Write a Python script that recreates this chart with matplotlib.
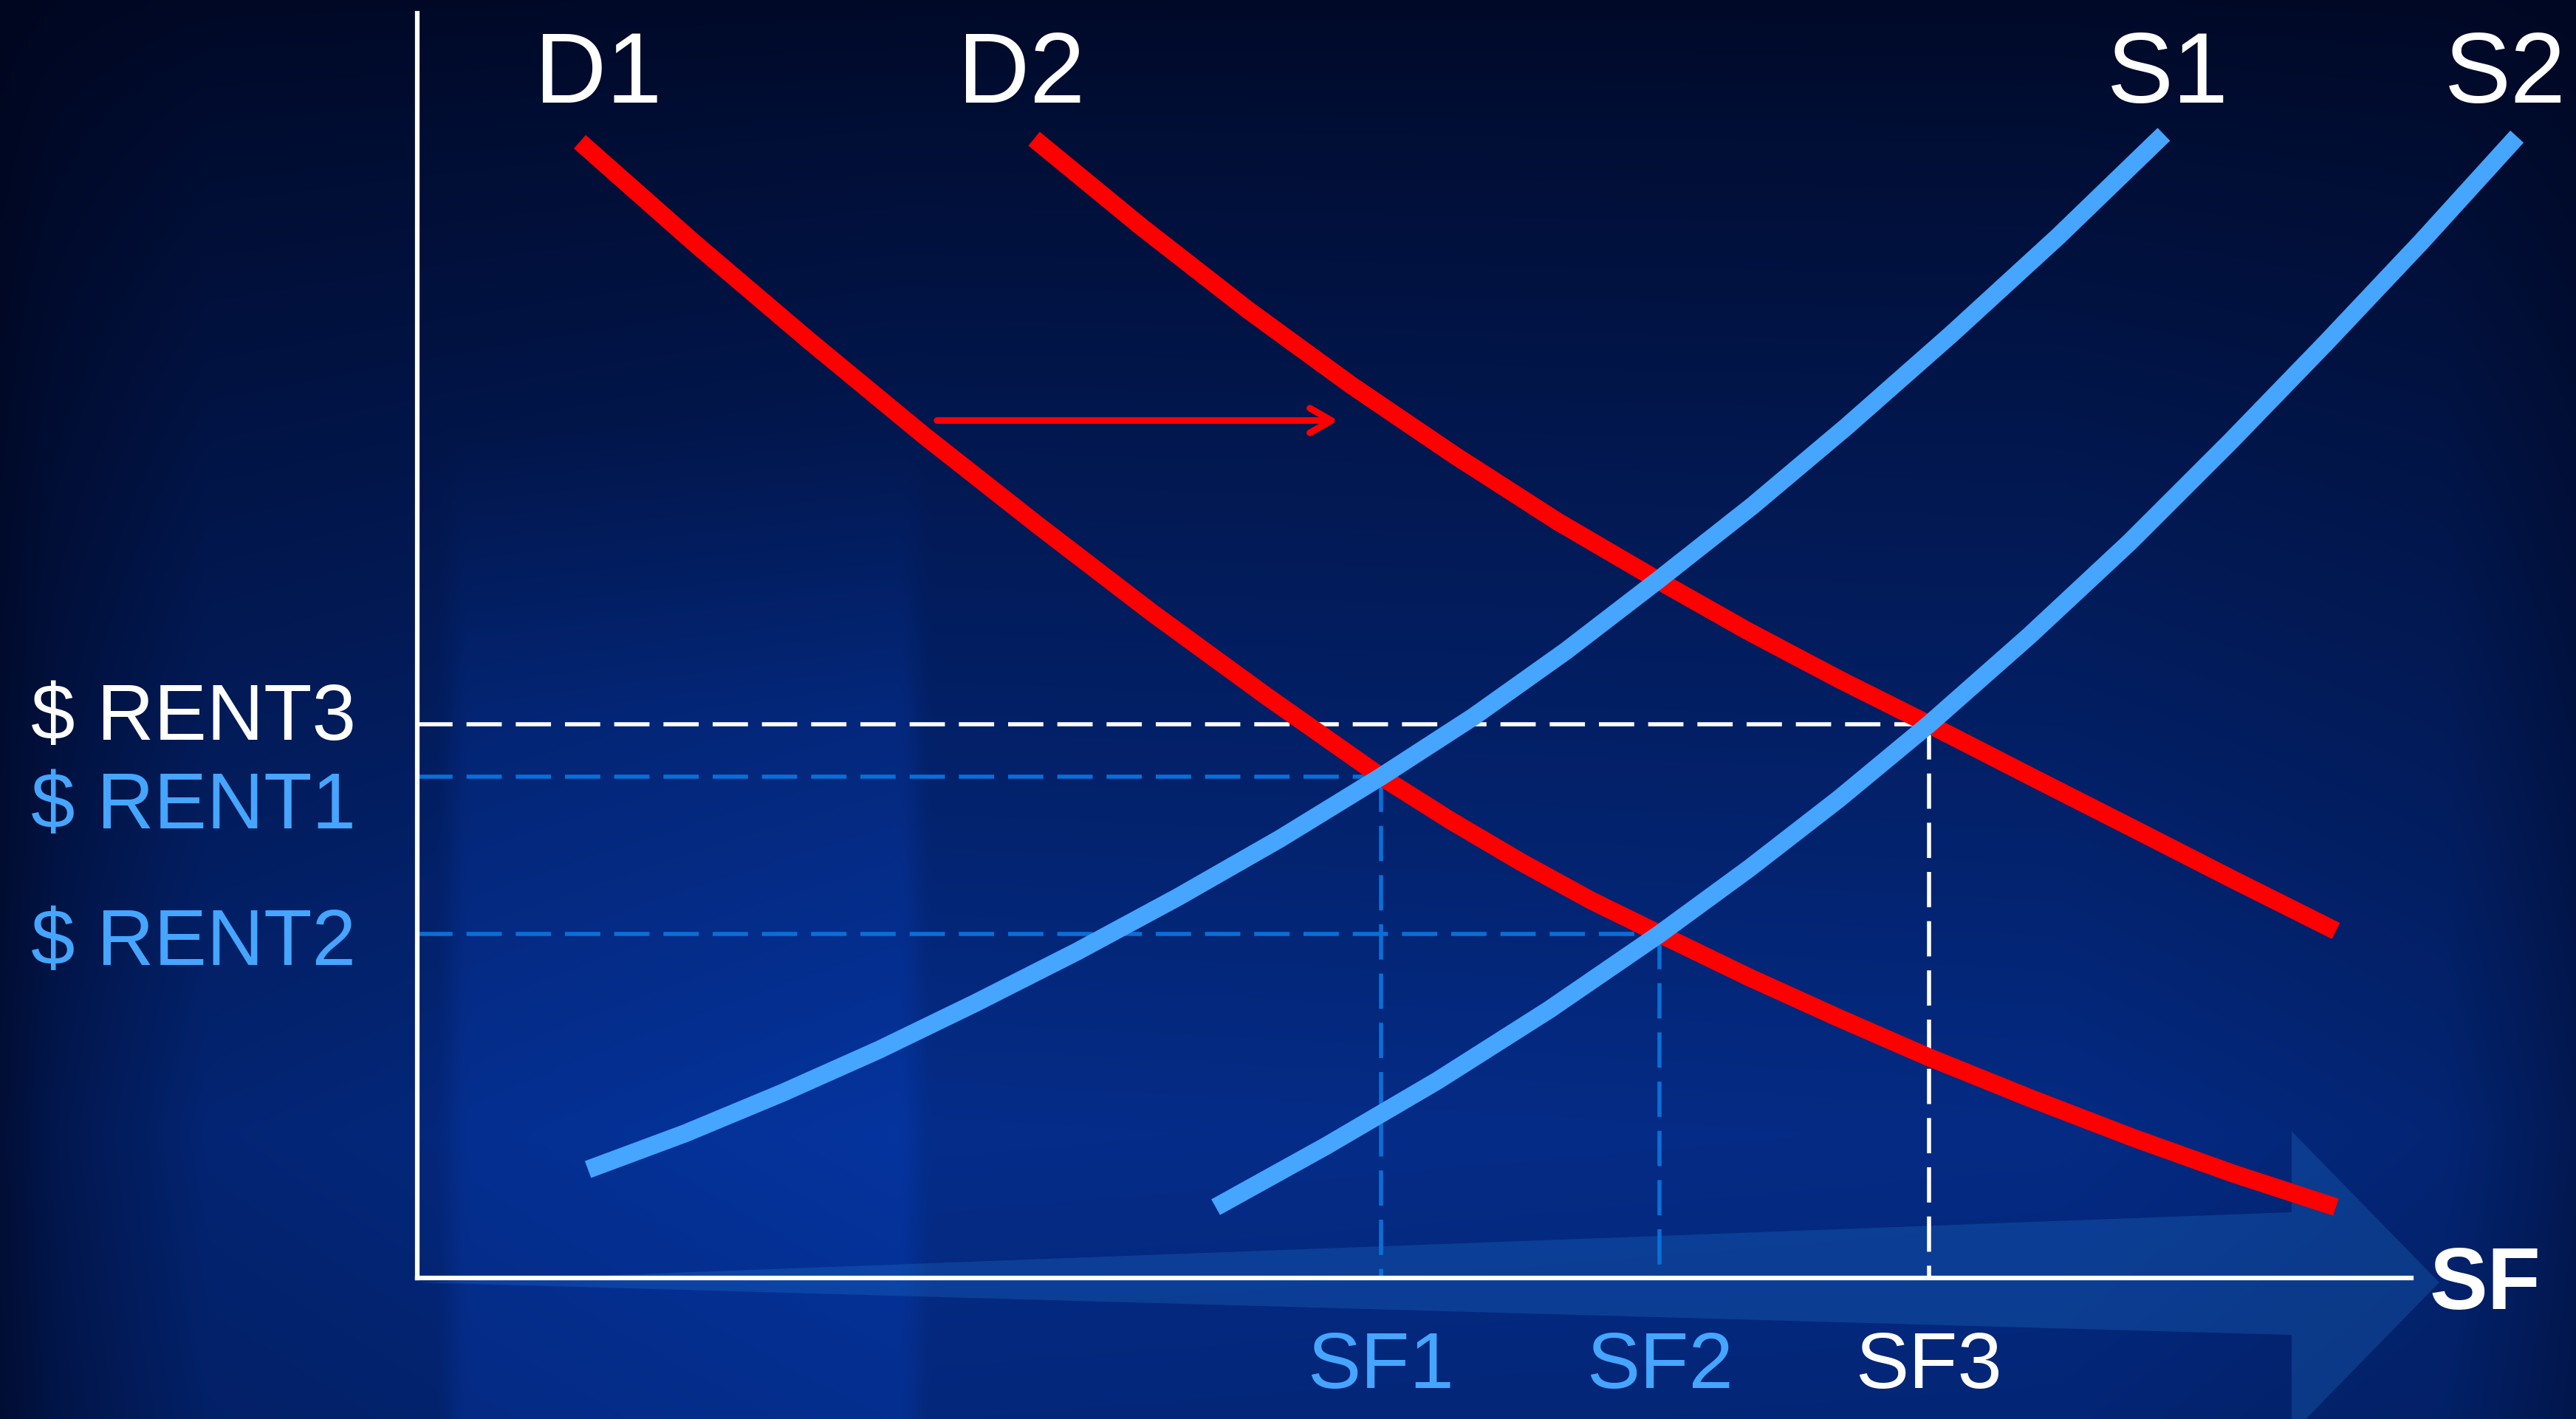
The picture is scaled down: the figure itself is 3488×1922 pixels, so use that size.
import numpy as np
import matplotlib.pyplot as plt
from matplotlib.patches import Polygon

plt.rcParams['font.family'] = ['Liberation Sans', 'DejaVu Sans']

# demand curves (square feet, rent)
d1_sf = [8.15, 13.89, 19.63, 25.37, 31.11, 36.85, 42.59, 48.33, 51.85, 55.37,
         58.89, 62.30, 66.81, 71.30, 75.81, 80.93, 86.04, 91.11, 96.22]
d1_rent = [89.84, 81.84, 74.14, 66.67, 59.54, 52.60, 46.00, 39.64, 36.14, 32.87,
           29.83, 27.20, 23.76, 20.55, 17.45, 14.19, 11.09, 8.23, 5.60]
d2_sf = [30.93, 36.30, 41.67, 46.85, 52.04, 57.22, 62.22, 66.74, 71.30, 75.81,
         80.93, 86.04, 91.11, 96.22]
d2_rent = [90.08, 83.13, 76.53, 70.58, 65.03, 59.78, 55.17, 51.14, 47.34, 43.78,
           39.64, 35.55, 31.47, 27.44]

# supply curves
s1_sf = [8.56, 13.44, 18.33, 23.15, 27.96, 33.07, 38.15, 43.26, 48.33, 52.96,
         57.59, 62.22, 66.96, 71.67, 76.96, 82.30, 87.59]
s1_rent = [8.58, 11.44, 14.65, 18.04, 21.72, 25.80, 30.12, 34.73, 39.64, 44.37,
           49.56, 55.17, 61.06, 67.31, 74.66, 82.37, 90.43]
s2_sf = [40.04, 45.59, 51.15, 56.74, 62.30, 66.81, 71.30, 75.81, 80.85, 85.89,
         90.93, 95.70, 100.52, 105.30]
s2_rent = [5.60, 10.45, 15.59, 21.19, 27.20, 32.40, 37.89, 43.78, 50.79, 58.20,
           66.14, 73.91, 81.96, 90.25]

# equilibrium points
eq_sf = [48.33, 62.30, 75.81]
eq_rent = [39.64, 27.20, 43.78]
sf_labels = ['SF1', 'SF2', 'SF3']
rent_labels = ['$ RENT1', '$ RENT2', '$ RENT3']

RED = '#ff0000'
LIGHT = '#45a5ff'
DASH_BLUE = '#0a6fd6'
eq_colors = [LIGHT, LIGHT, 'white']
guide_colors = [DASH_BLUE, DASH_BLUE, 'white']

W, H = 3488, 1922
fig = plt.figure(figsize=(W / 100, H / 100), dpi=100)

# dark blue backdrop
bg = fig.add_axes([0, 0, 1, 1])
yy, xx = np.mgrid[0:1:240j, 0:1:436j]
vert = np.interp(yy, [0, 0.08, 0.45, 0.8, 1.0], [0.08, 0.16, 0.45, 0.72, 0.62])
horiz = np.interp(xx, [0, 0.02, 0.08, 0.35, 0.8, 0.95, 1.0], [0.25, 0.45, 0.8, 1.0, 0.95, 0.8, 0.5])
band = 0.14 * np.clip((xx - 0.17) / 0.01, 0, 1) * np.clip((0.36 - xx) / 0.01, 0, 1) * np.clip((yy - 0.3) / 0.2, 0, 1)
inten = np.clip(vert * horiz + band, 0, 1)[..., None]
dark = np.array([0, 5, 28]) / 255
bright = np.array([6, 60, 180]) / 255
bg.imshow(dark + inten * (bright - dark), extent=[0, 1, 0, 1], aspect='auto', interpolation='bicubic')
bg.set_axis_off()

ax = fig.add_axes([565 / W, 191 / H, 2700 / W, 1713 / H])
ax.set_facecolor('none')
ax.set_xlim(0, 100)
ax.set_ylim(0, 100)
ax.set_xticks([])
ax.set_yticks([])
for side in ['top', 'right']:
    ax.spines[side].set_visible(False)
for side in ['left', 'bottom']:
    ax.spines[side].set_color('white')
    ax.spines[side].set_linewidth(4.5)
    ax.spines[side].set_zorder(3)

# wide translucent arrow behind the quantity axis
big_arrow = Polygon([(0, -0.35), (94.0, 5.2), (94.0, 11.6), (101.4, -0.35),
                     (94.0, -12.3), (94.0, -4.5)],
                    closed=True, facecolor='#2a8ce6', alpha=0.22, edgecolor='none',
                    clip_on=False, zorder=0.5)
ax.add_patch(big_arrow)

# guide lines to the axes
for x, y, c in zip(eq_sf, eq_rent, guide_colors):
    ax.plot([0, x], [y, y], color=c, lw=4, dashes=(8.6, 3.4), zorder=2, clip_on=False)
    ax.plot([x, x], [y, 0], color=c, lw=4, dashes=(8.6, 3.4), zorder=2, clip_on=False)

kw = dict(lw=17.5, solid_capstyle='butt', solid_joinstyle='round', clip_on=False, zorder=4)
ax.plot(d1_sf, d1_rent, color=RED, **kw)
ax.plot(d2_sf, d2_rent, color=RED, **kw)
ax.plot(s1_sf, s1_rent, color=LIGHT, **kw)
ax.plot(s2_sf, s2_rent, color=LIGHT, **kw)

# shift of demand
ax.annotate('', xy=(46.18, 67.8), xytext=(26.07, 67.8),
            arrowprops=dict(arrowstyle='->,head_length=0.42,head_width=0.24', color=RED,
                            lw=6.5, mutation_scale=50, shrinkA=0, shrinkB=0,
                            capstyle='round', joinstyle='round'),
            zorder=5)

# curve names
curve_names = ['D1', 'D2', 'S1', 'S2']
name_x = [9.07, 30.3, 87.8, 104.7]
for n, x in zip(curve_names, name_x):
    ax.text(x, 92.94, n, color='white', fontsize=97, ha='center', va='baseline', clip_on=False)

# quantity labels
for x, lab, c in zip(eq_sf, sf_labels, eq_colors):
    ax.text(x, -8.7, lab, color=c, fontsize=78, ha='center', va='baseline', clip_on=False)

# rent labels
rent_base = [35.55, 24.75, 42.56]
for y, lab, c in zip(rent_base, rent_labels, eq_colors):
    ax.text(-19.37, y, lab, color=c, fontsize=77, ha='left', va='baseline', clip_on=False)

ax.text(103.7, -2.45, 'SF', color='white', fontsize=85, fontweight='bold',
        ha='center', va='baseline', clip_on=False)

fig.savefig('out.png', dpi=100)
